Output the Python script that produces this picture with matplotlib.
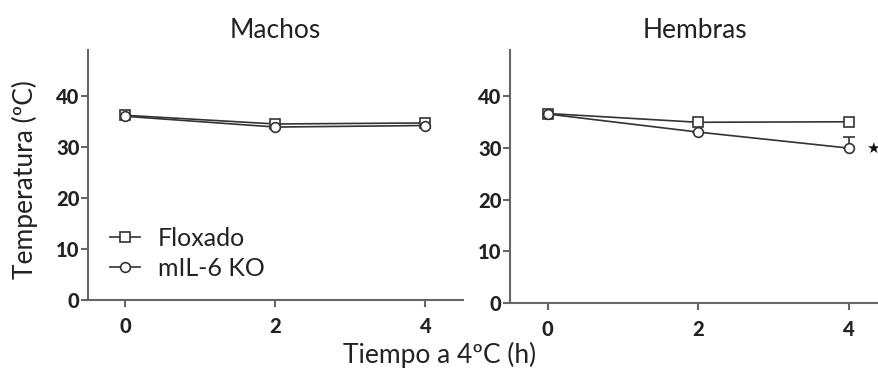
import matplotlib.pyplot as plt

plt.rcParams['font.family'] = ['Lato', 'DejaVu Sans']

tiempo = [0, 2, 4]
machos_flox = [36.2, 34.5, 34.7]
machos_ko = [36.0, 33.9, 34.2]
hembras_flox = [36.7, 35.0, 35.1]
hembras_ko = [36.6, 33.1, 30.0]
hembras_ko_err = [0, 0, 2.1]

col = '#333333'

fig = plt.figure(figsize=(8.79, 3.75), dpi=100)
ax1 = fig.add_axes([88/879, 1-300/375, 375/879, 250/375])
ax2 = fig.add_axes([510/879, 1-303/375, 369/879, 253/375])

def estilo(ax, titulo):
    ax.set_xlim(-0.5, 4.5)
    ax.set_ylim(0, 49)
    ax.set_xticks([0, 2, 4])
    ax.set_yticks([0, 10, 20, 30, 40])
    for s in ['top', 'right']:
        ax.spines[s].set_visible(False)
    for s in ['left', 'bottom']:
        ax.spines[s].set_color('#666666')
        ax.spines[s].set_linewidth(1.5)
    ax.tick_params(colors='#666666', width=1.5, length=5, labelsize=14.5)
    for lab in ax.get_xticklabels() + ax.get_yticklabels():
        lab.set_fontweight('black')
        lab.set_color('#222222')
    ax.xaxis.set_tick_params(pad=7)
    ax.yaxis.set_tick_params(pad=1)
    ax.set_title(titulo, fontsize=19, color='#222222', pad=9)

mk = dict(color=col, lw=1.2, ms=7, mfc='white', mec=col, mew=1.2)
ax1.plot(tiempo, machos_flox, marker='s', label='Floxado', **mk)
ax1.plot(tiempo, machos_ko, marker='o', label='mIL-6 KO', **mk)
estilo(ax1, 'Machos')
ax1.legend(loc='lower left', bbox_to_anchor=(0.02, 0.02), frameon=False,
           fontsize=18, handlelength=1.2, handletextpad=0.7, labelspacing=0.3,
           labelcolor='#222222', borderaxespad=0.2)

ax2.plot(tiempo, hembras_flox, marker='s', **mk)
ax2.errorbar(tiempo, hembras_ko, yerr=[[0, 0, 0], hembras_ko_err], marker='o',
             capsize=4, elinewidth=1.2, capthick=1.2, **mk)
estilo(ax2, 'Hembras')
ax2.set_xlim(-0.5, 4.4)
ax2.annotate('\u2605', xy=(tiempo[2], hembras_ko[2]), xytext=(12, 0),
             textcoords='offset points', ha='left', va='center',
             fontsize=11, color='#111111', family='DejaVu Sans',
             annotation_clip=False)

fig.text(25/879, 1-180/375, 'Temperatura (ºC)', rotation=90, ha='center',
         va='center', fontsize=19, color='#222222')
fig.text(440/879, 1-355/375, 'Tiempo a 4ºC (h)', ha='center', va='center',
         fontsize=19, color='#222222')

fig.savefig('out.png', dpi=100)
